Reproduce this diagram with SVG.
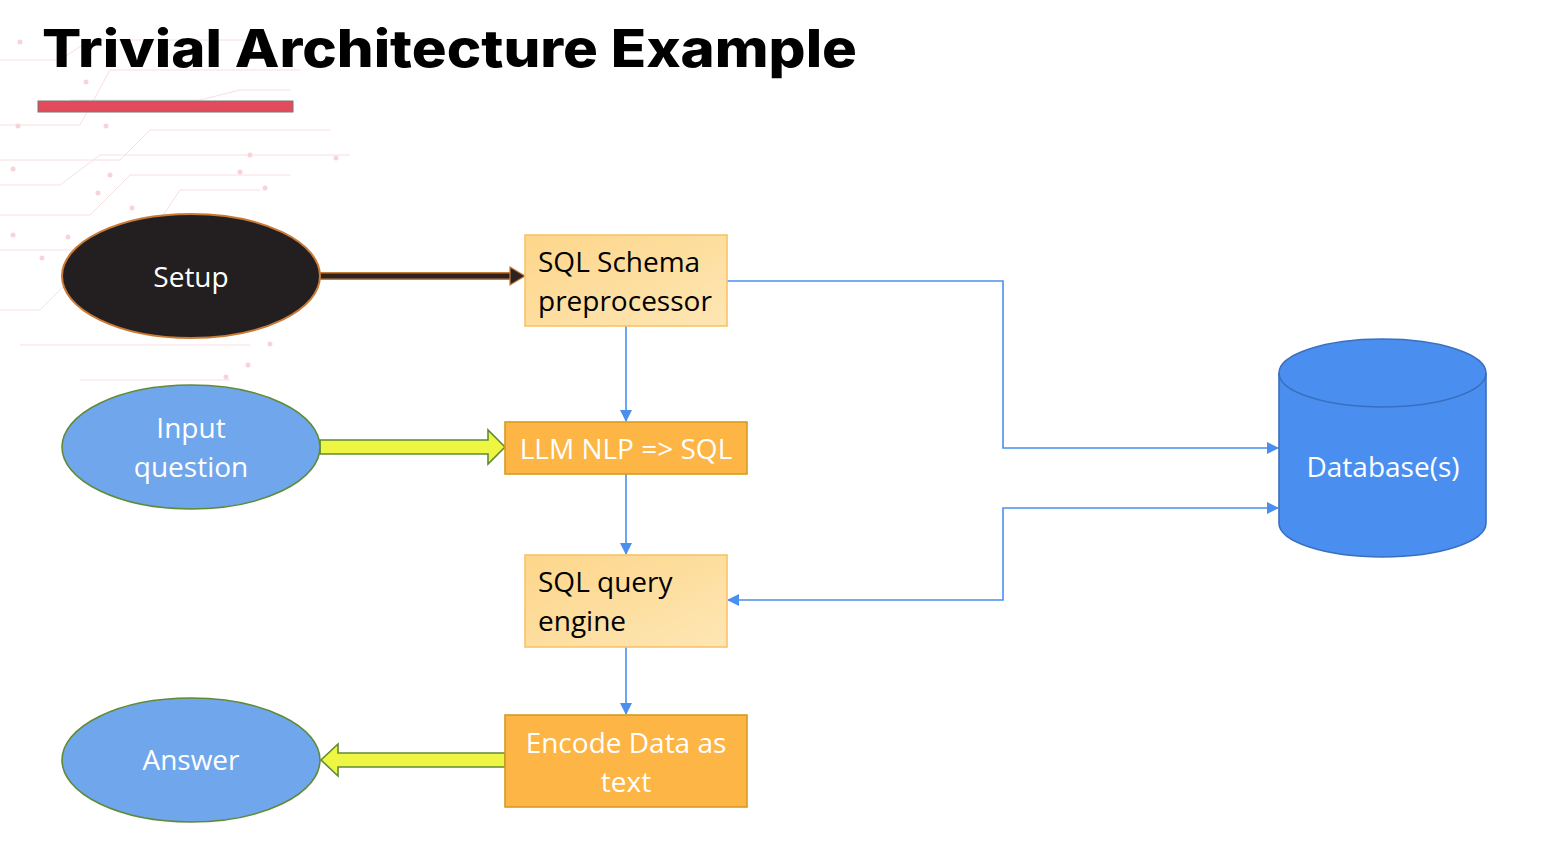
<svg xmlns="http://www.w3.org/2000/svg" width="1542" height="856" viewBox="0 0 1542 856">
<defs>
<linearGradient id="lightbox" x1="0" y1="0" x2="1" y2="1">
<stop offset="0" stop-color="#fdd68a"/>
<stop offset="1" stop-color="#fde6b4"/>
</linearGradient>
<marker id="blueArrow" markerWidth="12" markerHeight="12" refX="11" refY="6" orient="auto" markerUnits="userSpaceOnUse">
<path d="M0,0 L12,6 L0,12 Z" fill="#4a8ef0"/>
</marker>
<marker id="blueArrowStart" markerWidth="12" markerHeight="12" refX="1" refY="6" orient="auto" markerUnits="userSpaceOnUse">
<path d="M12,0 L0,6 L12,12 Z" fill="#4a8ef0"/>
</marker>
</defs>
<style>
.title{font-family:Inter,"Noto Sans",sans-serif;font-weight:800;font-size:52px;fill:#000}
.lbl{font-family:"Open Sans","Noto Sans",sans-serif;font-size:28px}
.dark{fill:#000}
.white{fill:#fff}
.blue{fill:none;stroke:#4a8ef0;stroke-width:1.6}
.bg{fill:none;stroke:#f6d2d5;stroke-width:1}
.dot{fill:#f3c2c7}
</style>
<rect width="1542" height="856" fill="#fff"/>
<g id="background" opacity="0.7">
<path class="bg" d="M0,60 L60,60 L90,40 L250,40"/>
<path class="bg" d="M0,125 L80,125 L110,70 L300,70"/>
<path class="bg" d="M0,160 L120,160 L150,130 L330,130"/>
<path class="bg" d="M0,185 L60,185 L100,155 L350,155"/>
<path class="bg" d="M0,215 L90,215 L130,175 L290,175"/>
<path class="bg" d="M0,250 L140,250 L180,190 L260,190"/>
<path class="bg" d="M0,310 L40,310 L70,280 L200,280"/>
<path class="bg" d="M20,345 L250,345"/>
<path class="bg" d="M80,380 L230,380"/>
<path class="bg" d="M70,100 L200,100 L240,90 L290,90"/>
<circle class="dot" cx="20" cy="42" r="2.5"/><circle class="dot" cx="86" cy="82" r="2.5"/>
<circle class="dot" cx="18" cy="126" r="2.5"/><circle class="dot" cx="106" cy="126" r="2.5"/>
<circle class="dot" cx="250" cy="155" r="2.5"/><circle class="dot" cx="336" cy="158" r="2.5"/>
<circle class="dot" cx="110" cy="175" r="2.5"/><circle class="dot" cx="240" cy="172" r="2.5"/>
<circle class="dot" cx="265" cy="188" r="2.5"/><circle class="dot" cx="13" cy="169" r="2.5"/>
<circle class="dot" cx="98" cy="193" r="2.5"/><circle class="dot" cx="132" cy="208" r="2.5"/>
<circle class="dot" cx="13" cy="235" r="2.5"/><circle class="dot" cx="42" cy="258" r="2.5"/>
<circle class="dot" cx="68" cy="237" r="2.5"/><circle class="dot" cx="270" cy="344" r="2.5"/>
<circle class="dot" cx="248" cy="365" r="2.5"/><circle class="dot" cx="226" cy="377" r="2.5"/>
</g>
<g id="title">
<text class="title" x="42" y="67" textLength="815" lengthAdjust="spacingAndGlyphs">Trivial Architecture Example</text>
<rect x="38" y="101" width="255" height="11" fill="#e14b5c" stroke="#777" stroke-width="1"/>
</g>
<g id="connectors">
<line x1="320" y1="276" x2="512" y2="276" stroke="#c97a35" stroke-width="8"/>
<line x1="320" y1="276" x2="513" y2="276" stroke="#2b2320" stroke-width="5"/>
<path d="M510,267 L525,276 L510,285 Z" fill="#2b2320" stroke="#c97a35" stroke-width="1.2"/>
<line class="blue" x1="626" y1="326" x2="626" y2="421" marker-end="url(#blueArrow)"/>
<line class="blue" x1="626" y1="474" x2="626" y2="554" marker-end="url(#blueArrow)"/>
<line class="blue" x1="626" y1="647" x2="626" y2="714" marker-end="url(#blueArrow)"/>
<polyline class="blue" points="727,281 1003,281 1003,448 1278,448" marker-end="url(#blueArrow)"/>
<polyline class="blue" points="728,600 1003,600 1003,508 1278,508" marker-start="url(#blueArrowStart)" marker-end="url(#blueArrow)"/>
<path d="M320,440 L488,440 L488,430 L505,447 L488,464 L488,454 L320,454 Z" fill="#eef543" stroke="#5f8a36" stroke-width="1.6"/>
<path d="M505,753 L338,753 L338,744 L321,760 L338,776 L338,767 L505,767 Z" fill="#eef543" stroke="#5f8a36" stroke-width="1.6"/>
</g>
<g id="setup">
<ellipse cx="191" cy="276" rx="129" ry="62" fill="#231f20" stroke="#c97a35" stroke-width="2"/>
<text class="lbl white" x="191" y="287" text-anchor="middle">Setup</text>
</g>
<g id="input">
<ellipse cx="191" cy="447" rx="129" ry="62" fill="#70a6ec" stroke="#5f8a36" stroke-width="1.6"/>
<text class="lbl white" x="191" y="438" text-anchor="middle">Input</text>
<text class="lbl white" x="191" y="477" text-anchor="middle">question</text>
</g>
<g id="answer">
<ellipse cx="191" cy="760" rx="129" ry="62" fill="#70a6ec" stroke="#5f8a36" stroke-width="1.6"/>
<text class="lbl white" x="191" y="770" text-anchor="middle">Answer</text>
</g>
<g id="schema">
<rect x="525" y="235" width="202" height="91" fill="url(#lightbox)" stroke="#f8c468" stroke-width="1.6"/>
<text class="lbl dark" x="538" y="272">SQL Schema</text>
<text class="lbl dark" x="538" y="311">preprocessor</text>
</g>
<g id="llm">
<rect x="505" y="422" width="242" height="52" fill="#fdb545" stroke="#d69b1e" stroke-width="1.6"/>
<text class="lbl white" x="626" y="459" text-anchor="middle">LLM NLP =&gt; SQL</text>
</g>
<g id="query">
<rect x="525" y="555" width="202" height="92" fill="url(#lightbox)" stroke="#f8c468" stroke-width="1.6"/>
<text class="lbl dark" x="538" y="592">SQL query</text>
<text class="lbl dark" x="538" y="631">engine</text>
</g>
<g id="encode">
<rect x="505" y="715" width="242" height="92" fill="#fdb545" stroke="#d69b1e" stroke-width="1.6"/>
<text class="lbl white" x="626" y="753" text-anchor="middle">Encode Data as</text>
<text class="lbl white" x="626" y="792" text-anchor="middle">text</text>
</g>
<g id="database">
<path d="M1279,373 L1279,523 A103.5,34 0 0 0 1486,523 L1486,373" fill="#4a8ff0" stroke="#3a6fbf" stroke-width="1.6"/>
<ellipse cx="1382.5" cy="373" rx="103.5" ry="34" fill="#4a8ff0" stroke="#3a6fbf" stroke-width="1.6"/>
<text class="lbl white" x="1383" y="477" text-anchor="middle">Database(s)</text>
</g>
</svg>
